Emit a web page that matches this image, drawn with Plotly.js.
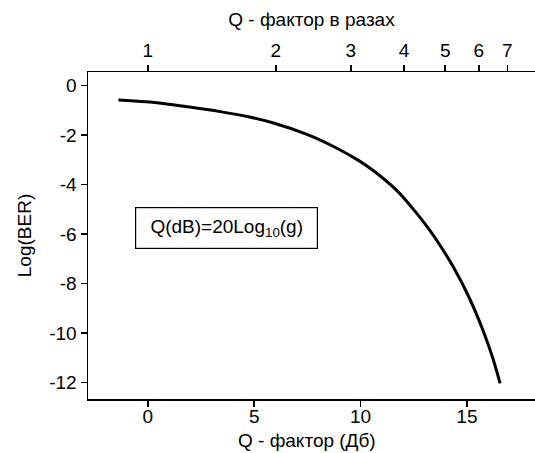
<!DOCTYPE html>
<html><head><meta charset="utf-8">
<script src="https://cdn.plot.ly/plotly-3.0.1.min.js"></script>
<style>html,body{margin:0;padding:0;background:#fff}</style>
</head><body>
<div id="chart" style="width:535px;height:453px"></div>
<script>
// Q-factor in dB (bottom axis) and log10(BER)
const qDb = [-1.38, 0.42, 1.83, 3.40, 4.73, 5.91, 7.48, 8.73, 9.90, 10.61, 11.71, 12.46, 13.19, 13.78, 14.37, 15.12, 15.78, 16.20, 16.56];
const logBer = [-0.59, -0.70, -0.86, -1.06, -1.27, -1.52, -1.98, -2.47, -3.03, -3.45, -4.25, -4.98, -5.78, -6.52, -7.35, -8.60, -9.95, -10.97, -12.04];
// top axis tick labels: Q-factor in times
const qTimesTicks = [1, 2, 3, 4, 5, 6, 7];
const xTicks = [0, 5, 10, 15];
const yTicks = [0, -2, -4, -6, -8, -10, -12];

const font = {family: 'Arial, "Liberation Sans", sans-serif', size: 19, color: '#000'};
const xMin = -2.81, xMax = 18.2;
const plotH = 453 - 72 - 54;

const traces = [
  {x: qDb, y: logBer, type: 'scatter', mode: 'lines', line: {color: '#000', width: 3, shape: 'spline', smoothing: 1}, hoverinfo: 'skip', showlegend: false},
  {x: [1], y: [null], xaxis: 'x2', type: 'scatter', mode: 'markers', hoverinfo: 'skip', showlegend: false}
];

const axisBase = {showgrid: false, zeroline: false, showline: true, linecolor: '#000', linewidth: 1.5,
  ticks: 'outside', ticklen: 6, tickwidth: 1.5, tickcolor: '#000', tickfont: font};

const layout = {
  width: 535, height: 453,
  margin: {l: 88, r: 0, t: 72, b: 54},
  paper_bgcolor: '#fff', plot_bgcolor: '#fff',
  font: font,
  xaxis: Object.assign({}, axisBase, {range: [xMin, xMax], tickvals: xTicks, ticktext: xTicks.map(String),
    ticklabelstandoff: -6}),
  xaxis2: Object.assign({}, axisBase, {type: 'log', overlaying: 'x', side: 'top', anchor: 'y',
    range: [xMin / 20, xMax / 20], tickvals: qTimesTicks, ticktext: qTimesTicks.map(String),
    title: {text: 'Q - фактор в разах', font: font, standoff: 8}}),
  yaxis: Object.assign({}, axisBase, {range: [-12.67, 0.54], tickvals: yTicks, ticktext: yTicks.map(String),
    title: {text: 'Log(BER)', font: font, standoff: 12}}),
  annotations: [{
    x: 3.70, y: -5.77, xref: 'x', yref: 'y', showarrow: false,
    text: 'Q(dB)=20Log<sub>10</sub>(g)', font: font,
    bordercolor: '#000', borderwidth: 1.2, borderpad: 9, bgcolor: '#fff',
    width: 163, height: 22
  }, {
    x: 7.5, xref: 'x', y: -(440 - 399) / plotH, yref: 'paper', yanchor: 'middle',
    showarrow: false, text: 'Q - фактор (Дб)', font: font
  }]
};

Plotly.newPlot('chart', traces, layout, {displayModeBar: false, staticPlot: true});
</script>
</body></html>
